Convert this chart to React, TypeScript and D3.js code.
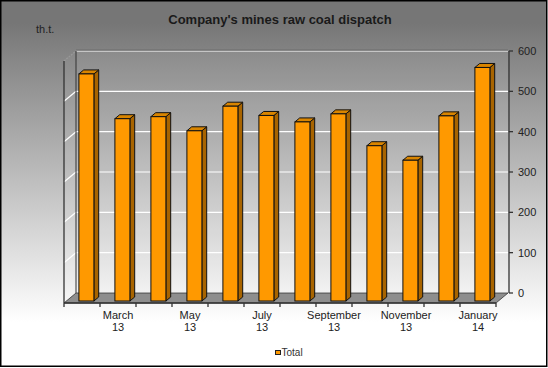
import React, { useEffect, useRef } from 'react';
import * as d3 from 'd3';

const months = [
  'February', 'March', 'April', 'May', 'June', 'July',
  'August', 'September', 'October', 'November', 'December', 'January',
];
const years = ['13', '13', '13', '13', '13', '13', '13', '13', '13', '13', '13', '14'];
const totals = [563, 452, 457, 422, 483, 460, 444, 464, 385, 349, 459, 579];
const yTicks = [0, 100, 200, 300, 400, 500, 600];
const seriesName = 'Total';

const App: React.FC = () => {
  const svgRef = useRef<SVGSVGElement>(null);

  useEffect(() => {
    document.body.style.margin = '0';
    if (!svgRef.current) return;

    const svg = d3.select(svgRef.current);
    svg.selectAll('*').remove();

    const width = 548;
    const height = 368;
    const font = '"Liberation Sans", Arial, sans-serif';

    // back plane of the 3d box, front plane is shifted by (DX, DY)
    const back = { left: 76, right: 508, top: 51, bottom: 293 };
    const DX = -12;
    const DY = 10;

    const keys = months.map((m, i) => `${m} ${years[i]}`);

    const x = d3.scaleBand().domain(keys).range([back.left, back.right]).padding(0);
    const y = d3.scaleLinear().domain([0, 600]).range([back.bottom, back.top]);

    const defs = svg.append('defs');
    const bg = defs
      .append('linearGradient')
      .attr('id', 'bg')
      .attr('x1', 0)
      .attr('y1', 0)
      .attr('x2', 0)
      .attr('y2', 1);
    bg.append('stop').attr('offset', '6%').attr('stop-color', '#767676');
    bg.append('stop').attr('offset', '88%').attr('stop-color', '#ffffff');

    svg
      .append('rect')
      .attr('x', 0.75)
      .attr('y', 0.75)
      .attr('width', width - 2)
      .attr('height', height - 2.5)
      .attr('fill', 'url(#bg)')
      .attr('stroke', '#000')
      .attr('stroke-width', 1.5);

    // title
    svg
      .append('text')
      .attr('x', 280)
      .attr('y', 24)
      .attr('text-anchor', 'middle')
      .attr('font-family', font)
      .attr('font-size', 13)
      .attr('font-weight', 'bold')
      .attr('fill', '#1a1a1a')
      .text("Company's mines raw coal dispatch");

    svg
      .append('text')
      .attr('x', 36)
      .attr('y', 32.5)
      .attr('font-family', font)
      .attr('font-size', 11)
      .attr('fill', '#222')
      .text('th.t.');

    // walls
    svg
      .append('rect')
      .attr('x', back.left)
      .attr('y', back.top)
      .attr('width', back.right - back.left)
      .attr('height', back.bottom - back.top)
      .attr('fill', '#fff')
      .attr('fill-opacity', 0.07);

    svg
      .append('polygon')
      .attr(
        'points',
        [
          [back.left + DX, back.top + DY],
          [back.left, back.top],
          [back.left, back.bottom],
          [back.left + DX, back.bottom + DY],
        ].join(' ')
      )
      .attr('fill', '#fff')
      .attr('fill-opacity', 0.04);

    // gridlines on back wall and side wall
    const grid = svg.append('g');
    yTicks.forEach((t) => {
      grid
        .append('line')
        .attr('x1', back.left)
        .attr('x2', back.right)
        .attr('y1', y(t))
        .attr('y2', y(t))
        .attr('stroke', '#fff')
        .attr('stroke-width', 1.2);
      if (t > 0) {
        grid
          .append('line')
          .attr('x1', back.left + DX)
          .attr('y1', y(t) + DY)
          .attr('x2', back.left)
          .attr('y2', y(t))
          .attr('stroke', t === 600 ? '#999' : '#fff')
          .attr('stroke-dasharray', t === 600 ? '2,1' : null)
          .attr('stroke-width', 1.2);
      }
    });

    svg
      .append('line')
      .attr('x1', back.left)
      .attr('x2', back.right)
      .attr('y1', back.top - 0.8)
      .attr('y2', back.top - 0.8)
      .attr('stroke', '#555')
      .attr('stroke-width', 0.8);

    svg
      .append('line')
      .attr('x1', back.left)
      .attr('x2', back.left)
      .attr('y1', back.top)
      .attr('y2', back.bottom)
      .attr('stroke', '#333')
      .attr('stroke-width', 1);

    // floor
    svg
      .append('polygon')
      .attr(
        'points',
        [
          [back.left, back.bottom],
          [back.right, back.bottom],
          [back.right + DX, back.bottom + DY],
          [back.left + DX, back.bottom + DY],
        ].join(' ')
      )
      .attr('fill', '#8e8e8e')
      .attr('stroke', '#333')
      .attr('stroke-width', 0.8);

    // bars
    const barW = 15;
    const tFront = 0.8;
    const tBack = 0.4;
    const sideDx = DX * (tBack - tFront);
    const sideDy = DY * (tBack - tFront);

    const bars = svg
      .selectAll('.bar')
      .data(totals)
      .enter()
      .append('g')
      .attr('class', 'bar');

    const fx = (_: number, i: number) => (x(keys[i]) || 0) + (x.bandwidth() - barW) / 2 + 2 + DX * tFront;
    const fTop = (d: number) => y(d) + DY * tFront;
    const fBot = y(0) + DY * tFront;

    bars
      .append('polygon')
      .attr('points', (d, i) => {
        const l = fx(d, i) + barW;
        return [
          [l, fTop(d)],
          [l + sideDx, fTop(d) + sideDy],
          [l + sideDx, fBot + sideDy],
          [l, fBot],
        ].join(' ');
      })
      .attr('fill', '#a86400')
      .attr('stroke', '#111')
      .attr('stroke-width', 1)
      .attr('stroke-linejoin', 'round');

    bars
      .append('polygon')
      .attr('points', (d, i) => {
        const l = fx(d, i);
        return [
          [l, fTop(d)],
          [l + barW, fTop(d)],
          [l + barW + sideDx, fTop(d) + sideDy],
          [l + sideDx, fTop(d) + sideDy],
        ].join(' ');
      })
      .attr('fill', '#d98500')
      .attr('stroke', '#111')
      .attr('stroke-width', 1)
      .attr('stroke-linejoin', 'round');

    bars
      .append('rect')
      .attr('x', (d, i) => fx(d, i))
      .attr('y', (d) => fTop(d))
      .attr('width', barW)
      .attr('height', (d) => fBot - fTop(d))
      .attr('fill', '#ff9900')
      .attr('stroke', '#111')
      .attr('stroke-width', 1);

    // front axes
    const axes = svg.append('g').attr('stroke', '#333').attr('stroke-width', 1.3);
    axes
      .append('line')
      .attr('x1', back.left + DX)
      .attr('x2', back.left + DX)
      .attr('y1', back.top + DY)
      .attr('y2', back.bottom + DY);
    axes
      .append('line')
      .attr('x1', back.left + DX)
      .attr('x2', back.right + DX)
      .attr('y1', back.bottom + DY)
      .attr('y2', back.bottom + DY);
    axes
      .append('line')
      .attr('x1', back.right + 1)
      .attr('x2', back.right + 1)
      .attr('y1', back.top)
      .attr('y2', back.bottom);

    yTicks.forEach((t) => {
      axes
        .append('line')
        .attr('x1', back.right + 1)
        .attr('x2', back.right + 5)
        .attr('y1', y(t))
        .attr('y2', y(t));
    });

    keys.concat(['end']).forEach((k, i) => {
      const xx = back.left + DX + i * x.bandwidth();
      axes
        .append('line')
        .attr('x1', xx)
        .attr('x2', xx)
        .attr('y1', back.bottom + DY)
        .attr('y2', back.bottom + DY + 4);
    });

    // y labels on right
    svg
      .selectAll('.ylab')
      .data(yTicks)
      .enter()
      .append('text')
      .attr('class', 'ylab')
      .attr('x', back.right + 10)
      .attr('y', (d) => y(d) + 4)
      .attr('font-family', font)
      .attr('font-size', 11)
      .attr('fill', '#222')
      .text((d) => d);

    // x labels, every second month
    const xl = svg
      .selectAll('.xlab')
      .data(keys.filter((_, i) => i % 2 === 1))
      .enter()
      .append('text')
      .attr('class', 'xlab')
      .attr('text-anchor', 'middle')
      .attr('font-family', font)
      .attr('font-size', 11)
      .attr('fill', '#222');
    xl.append('tspan')
      .attr('x', (d) => (x(d) || 0) + x.bandwidth() / 2 + DX)
      .attr('y', 319)
      .text((d) => d.split(' ')[0]);
    xl.append('tspan')
      .attr('x', (d) => (x(d) || 0) + x.bandwidth() / 2 + DX)
      .attr('y', 331)
      .text((d) => d.split(' ')[1]);

    // legend
    svg
      .append('rect')
      .attr('x', 213)
      .attr('y', 340)
      .attr('width', 149)
      .attr('height', 23)
      .attr('fill', '#fff')
      .attr('fill-opacity', 0.85);
    svg
      .append('rect')
      .attr('x', 275.5)
      .attr('y', 350.5)
      .attr('width', 5)
      .attr('height', 4)
      .attr('fill', '#ff9900')
      .attr('stroke', '#222')
      .attr('stroke-width', 1);
    svg
      .append('text')
      .attr('x', 281.5)
      .attr('y', 355.5)
      .attr('font-family', font)
      .attr('font-size', 10)
      .attr('fill', '#333')
      .text(seriesName);
  }, []);

  return <svg ref={svgRef} width={548} height={368} style={{ display: 'block' }}></svg>;
};

export default App;
